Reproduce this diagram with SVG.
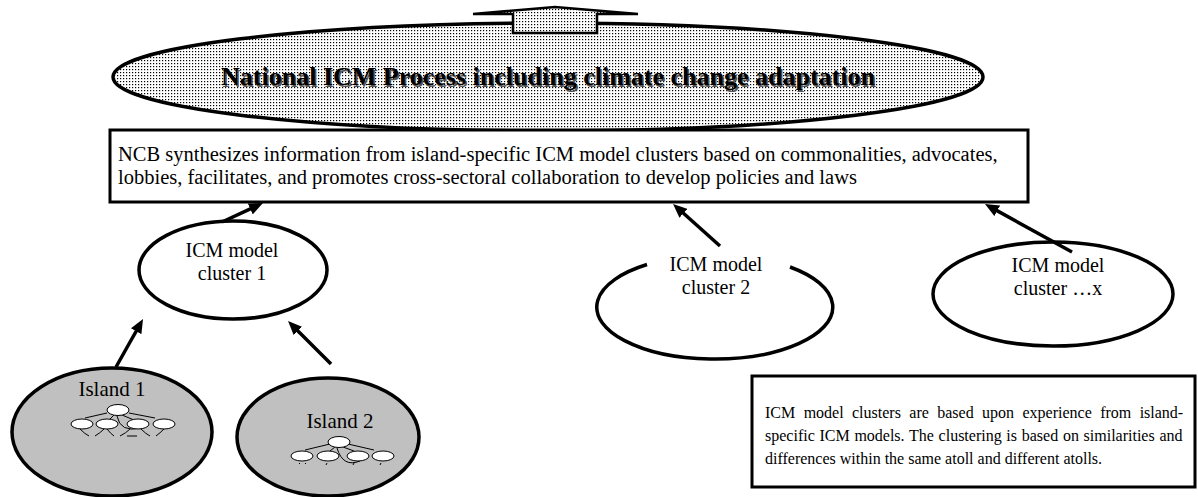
<svg xmlns="http://www.w3.org/2000/svg" width="1198" height="497" viewBox="0 0 1198 497">
  <defs>
    <!-- fine dot screen used for the national process shape -->
    <pattern id="dots" patternUnits="userSpaceOnUse" width="3" height="3">
      <rect width="3" height="3" fill="#ffffff"/>
      <rect width="1.2" height="1.2" fill="#000000"/>
    </pattern>
    <marker id="head" markerUnits="userSpaceOnUse" markerWidth="14" markerHeight="12" refX="6" refY="6" orient="auto">
      <path d="M0,0 L14,6 L0,12 z" fill="#000"/>
    </marker>
  </defs>
  <style>
    .serif { font-family: "Liberation Serif", "Times New Roman", serif; fill: #000; }
    .node { fill: #fff; stroke: #000; stroke-width: 3.5; }
    .island { fill: #c0c0c0; stroke: #000; stroke-width: 3.5; }
    .box { fill: #fff; stroke: #000; stroke-width: 3; }
    .link { stroke: #000; stroke-width: 3.5; fill: none; marker-end: url(#head); }
    .mini { fill: #fff; stroke: #000; stroke-width: 1; }
    .miniline { fill: none; stroke: #000; stroke-width: 1; }
  </style>

  <rect width="1198" height="497" fill="#fff"/>

  <!-- national process -->
  <g id="national">
    <ellipse cx="548" cy="77" rx="435" ry="54" fill="url(#dots)" stroke="#000" stroke-width="3.5"/>
    <path d="M473,14 L555,7 L638,14 L597,14 L597,33 L513,33 L513,14 z" fill="url(#dots)" stroke="#000" stroke-width="2.5" stroke-linejoin="miter"/>
    <text x="549.5" y="86.5" text-anchor="middle" class="serif" font-size="26" font-weight="bold" style="fill:#555">National ICM Process including climate change adaptation</text>
    <text x="548" y="85" text-anchor="middle" class="serif" font-size="26" font-weight="bold">National ICM Process including climate change adaptation</text>
  </g>

  <!-- NCB synthesis box -->
  <g id="ncb">
    <rect x="110" y="130" width="918" height="72" class="box"/>
    <text class="serif" font-size="20.5" x="118" y="161">NCB synthesizes information from island-specific ICM model clusters based on commonalities, advocates,</text>
    <text class="serif" font-size="20.5" x="118" y="184">lobbies, facilitates, and promotes cross-sectoral collaboration to develop policies and laws</text>
  </g>

  <!-- clusters -->
  <g id="cluster1">
    <ellipse cx="233" cy="270" rx="94" ry="49" class="node"/>
    <text class="serif" font-size="20" x="232" y="257" text-anchor="middle">ICM model</text>
    <text class="serif" font-size="20" x="232" y="280" text-anchor="middle">cluster 1</text>
  </g>

  <g id="cluster2">
    <path d="M647,264.5 A118,52 0 1 0 790,267" class="node" fill="none"/>
    <text class="serif" font-size="20" x="716" y="271" text-anchor="middle">ICM model</text>
    <text class="serif" font-size="20" x="716" y="294" text-anchor="middle">cluster 2</text>
  </g>

  <g id="clusterx">
    <ellipse cx="1053" cy="294" rx="120" ry="52" class="node"/>
    <text class="serif" font-size="20" x="1058" y="272" text-anchor="middle">ICM model</text>
    <text class="serif" font-size="20" x="1058" y="295" text-anchor="middle">cluster …x</text>
  </g>

  <!-- islands with their own small model diagrams -->
  <g id="island1">
    <ellipse cx="112" cy="432" rx="100" ry="64" class="island"/>
    <text class="serif" font-size="21" x="112" y="396" text-anchor="middle">Island 1</text>
    <g>
      <line x1="85" y1="418" x2="107" y2="413" class="miniline"/>
      <line x1="129" y1="413" x2="155" y2="418" class="miniline"/>
      <line x1="114" y1="415" x2="109" y2="420" class="miniline"/>
      <line x1="122" y1="415" x2="134" y2="420" class="miniline"/>
      <path d="M117,416 Q120,433 141,428" class="miniline"/>
      <ellipse cx="118" cy="410" rx="11" ry="5.5" class="mini"/>
      <ellipse cx="82" cy="424" rx="11" ry="5" class="mini"/>
      <ellipse cx="107" cy="424" rx="11" ry="5" class="mini"/>
      <ellipse cx="138" cy="424" rx="11" ry="5" class="mini"/>
      <ellipse cx="164" cy="424" rx="11" ry="5" class="mini"/>
      <path d="M80,429 Q85,434 89,436 M95,436 Q100,433 104,429 M107,429 Q111,434 114,436 M120,436 Q126,433 130,429 M127,436 L137,436 M141,429 Q146,434 150,436 M156,436 Q160,433 164,429" class="miniline"/>
    </g>
  </g>

  <g id="island2">
    <ellipse cx="328" cy="437" rx="91" ry="59" class="island"/>
    <text class="serif" font-size="21" x="340" y="428" text-anchor="middle">Island 2</text>
    <g>
      <line x1="305" y1="450" x2="330" y2="444" class="miniline"/>
      <line x1="348" y1="444" x2="374" y2="450" class="miniline"/>
      <line x1="335" y1="447" x2="330" y2="451" class="miniline"/>
      <line x1="343" y1="447" x2="354" y2="451" class="miniline"/>
      <path d="M337,448 Q343,468 360,461" class="miniline"/>
      <ellipse cx="339" cy="442" rx="11" ry="5.5" class="mini"/>
      <ellipse cx="302" cy="456" rx="11" ry="5" class="mini"/>
      <ellipse cx="328" cy="456" rx="11" ry="5" class="mini"/>
      <ellipse cx="358" cy="456" rx="11" ry="5" class="mini"/>
      <ellipse cx="383" cy="456" rx="11" ry="5" class="mini"/>
      <path d="M299,463 L300,464 M305,463 L306,464 M327,463 L326,465 M354,463 L353,465 M381,463 L380,465" class="miniline"/>
    </g>
  </g>

  <!-- note box -->
  <g id="note">
    <rect x="752" y="376" width="443" height="111" class="box"/>
    <text class="serif" font-size="16" x="765" y="418" word-spacing="4.4">ICM model clusters are based upon experience from island-</text>
    <text class="serif" font-size="16" x="765" y="441" word-spacing="0.7">specific ICM models. The clustering is based on similarities and</text>
    <text class="serif" font-size="16" x="765" y="464">differences within the same atoll and different atolls.</text>
  </g>

  <!-- connectors -->
  <g id="connectors">
    <line x1="222" y1="222" x2="255.7" y2="206.4" class="link"/>
    <line x1="116" y1="367" x2="139.1" y2="326" class="link"/>
    <line x1="331" y1="364" x2="293.7" y2="326.7" class="link"/>
    <line x1="720" y1="246" x2="679" y2="209.3" class="link"/>
    <line x1="1072" y1="252" x2="992" y2="207.9" class="link"/>
  </g>
</svg>
